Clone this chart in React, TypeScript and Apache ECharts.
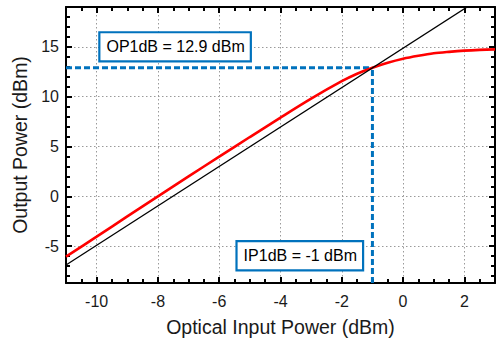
import React, { useEffect, useRef } from 'react';
import * as echarts from 'echarts';

// ---- data ----
const inputPower = [-11, -10, -9, -8, -7, -6, -5, -4, -3, -2, -1.5, -1, -0.5, 0, 0.5, 1, 1.5, 2, 2.5, 3];
const outputPower = [-6.05, -4.05, -2.02, 0, 2.0, 3.98, 5.95, 7.9, 9.8, 11.55, 12.3, 12.9, 13.4, 13.8, 14.1, 14.35, 14.5, 14.62, 14.7, 14.75];
const linearX = [-11, 3];
const linearY = [-6.9, 20.8];
const ip1dB = -1;
const op1dB = 12.9;

const xMajor = [-10, -8, -6, -4, -2, 0, 2];
const xMinor = [-10.5, -10, -9.5, -9, -8.5, -8, -7.5, -7, -6.5, -6, -5.5, -5, -4.5, -4, -3.5, -3, -2.5, -2, -1.5, -1, -0.5, 0, 0.5, 1, 1.5, 2, 2.5];
const yMajor = [-5, 0, 5, 10, 15];
const yMinor = [-8, -7, -6, -5, -4, -3, -2, -1, 0, 1, 2, 3, 4, 5, 6, 7, 8, 9, 10, 11, 12, 13, 14, 15, 16, 17, 18];

const xRange = [-11, 3];
const yRange = [-8.7, 19];

// annotation anchors (data coords)
const opLabelAt = [-7.44, 15.0];
const ipLabelAt = [-3.37, -5.97];

const FONT = '"Liberation Sans", Arial, Helvetica, sans-serif';
const BLUE = '#0072BD';

function makeAxis(dim: 'x' | 'y', position: string, major: boolean, labels: boolean, grid: boolean, extra: any = {}) {
  const range = dim === 'x' ? xRange : yRange;
  const majorVals = dim === 'x' ? xMajor : yMajor;
  const minorVals = dim === 'x' ? xMinor : yMinor;
  return {
    type: 'value',
    position,
    min: range[0],
    max: range[1],
    axisLine: {
      show: major,
      onZero: false,
      lineStyle: { color: '#000', width: 2 },
    },
    axisTick: {
      show: true,
      inside: true,
      customValues: major ? majorVals : minorVals,
      length: major ? 6 : 4,
      lineStyle: { color: '#000', width: 2 },
    },
    axisLabel: {
      show: labels,
      customValues: majorVals,
      fontFamily: FONT,
      fontSize: 16,
      color: '#1a1a1a',
      margin: dim === 'x' ? 10 : 7,
    },
    splitLine: {
      show: grid,
      lineStyle: { color: '#9a9a9a', width: 1, type: [1.5, 2.5] },
    },
    ...extra,
  };
}

export default function App() {
  const ref = useRef<HTMLDivElement>(null);
  useEffect(() => {
    document.body.style.margin = '0';
    if (!ref.current) return;
    const chart = echarts.init(ref.current, undefined, { renderer: 'svg' });
    const nameStyle = { fontFamily: FONT, fontSize: 19.5, color: '#1a1a1a' };
    chart.setOption({
      animation: false,
      backgroundColor: '#fff',
      grid: { left: 66, right: 2, top: 7, bottom: 64, containLabel: false, outerBoundsMode: 'none' },
      xAxis: [
        makeAxis('x', 'bottom', true, true, true, {
          name: 'Optical Input Power (dBm)',
          nameLocation: 'middle',
          nameGap: 34,
          nameTextStyle: nameStyle,
        }),
        makeAxis('x', 'bottom', false, false, false),
        makeAxis('x', 'top', true, false, false),
        makeAxis('x', 'top', false, false, false),
      ],
      yAxis: [
        makeAxis('y', 'left', true, true, true, {
          name: 'Output Power (dBm)',
          nameLocation: 'middle',
          nameGap: 30,
          nameTextStyle: nameStyle,
        }),
        makeAxis('y', 'left', false, false, false),
        makeAxis('y', 'right', true, false, false),
        makeAxis('y', 'right', false, false, false),
      ],
      series: [
        {
          type: 'line',
          xAxisIndex: 0,
          yAxisIndex: 0,
          data: [[xRange[0], op1dB], [ip1dB, op1dB]],
          symbol: 'none',
          lineStyle: { color: BLUE, width: 3, type: [6, 3] },
          z: 2,
        },
        {
          type: 'line',
          xAxisIndex: 0,
          yAxisIndex: 0,
          data: [[ip1dB, yRange[0]], [ip1dB, op1dB]],
          symbol: 'none',
          lineStyle: { color: BLUE, width: 3, type: [6, 3] },
          z: 2,
        },
        {
          type: 'line',
          xAxisIndex: 0,
          yAxisIndex: 0,
          data: inputPower.map((x, i) => [x, outputPower[i]]),
          symbol: 'none',
          smooth: 0.3,
          lineStyle: { color: '#ff0000', width: 2.6 },
          z: 3,
        },
        {
          type: 'line',
          xAxisIndex: 0,
          yAxisIndex: 0,
          data: linearX.map((x, i) => [x, linearY[i]]),
          symbol: 'none',
          clip: true,
          lineStyle: { color: '#000', width: 1.3 },
          z: 4,
        },
        {
          type: 'scatter',
          xAxisIndex: 0,
          yAxisIndex: 0,
          data: [],
          z: 10,
          markPoint: {
            symbol: 'circle',
            symbolSize: 1,
            itemStyle: { color: 'rgba(0,0,0,0)' },
            label: {
              show: true,
              position: 'inside',
              fontFamily: FONT,
              fontSize: 16,
              color: '#000',
              backgroundColor: '#fff',
              borderColor: BLUE,
              borderWidth: 2.2,
              padding: [5, 5, 4, 6],
              lineHeight: 18,
            },
            data: [
              { coord: opLabelAt, label: { formatter: `OP1dB = ${op1dB} dBm` } },
              { coord: ipLabelAt, label: { formatter: `IP1dB = ${ip1dB} dBm` } },
            ],
          },
        },
      ],
    });
    return () => chart.dispose();
  }, []);
  return <div ref={ref} style={{ position: 'fixed', left: 0, top: 0, width: 497, height: 347 }} />;
}
